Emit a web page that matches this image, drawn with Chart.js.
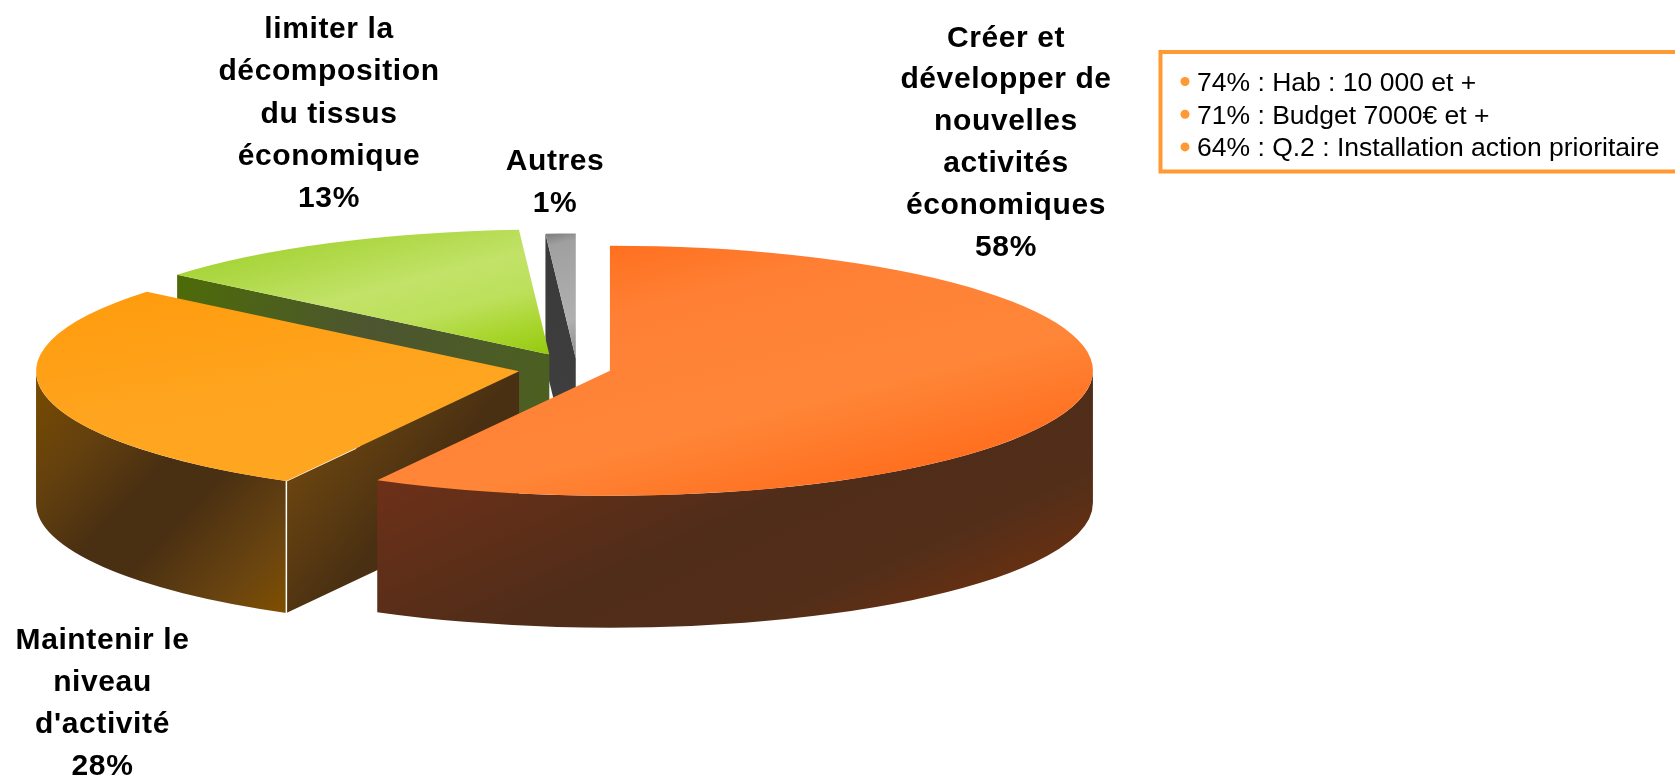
<!DOCTYPE html>
<html lang="fr">
<head>
<meta charset="utf-8">
<title>Camembert 3D</title>
<script src="https://cdn.jsdelivr.net/npm/chart.js@4/dist/chart.umd.min.js"></script>
<style>
html,body{margin:0;padding:0;background:#fff;overflow:hidden}
canvas{display:block}
</style>
</head>
<body>
<canvas id="c" width="1675" height="777"></canvas>
<script>
// ---- data ----
const categories = [
  ["Créer et", "développer de", "nouvelles", "activités", "économiques"],
  ["Maintenir le", "niveau", "d'activité"],
  ["limiter la", "décomposition", "du tissus", "économique"],
  ["Autres"]
];
const values = [58, 28, 13, 1];
const noteLines = [
  "74% : Hab : 10 000 et +",
  "71% : Budget 7000€ et +",
  "64% : Q.2 : Installation action prioritaire"
];

// ---- styling constants ----
const SQUASH = 125 / 483, DEPTH = 132, RADIUS = 483;
const explode = [34, 59, 61, 39];
const labelAnchors = [
  {x: 1006, last: 255.5, gap: 41.8},
  {x: 102.5, last: 775, gap: 42},
  {x: 329, last: 207, gap: 42.2},
  {x: 555, last: 212, gap: 42}
];
const topShades = [
  {a:[609,246], b:[1333,433], s:[[0,'#ff701f'],[.2,'#ff8035'],[.55,'#ff8638'],[.8,'#ff7020'],[1,'#ff6a15']]},
  {a:[30,285], b:[520,480], s:[[0,'#ff9a0a'],[.5,'#ffa41e'],[1,'#ffa723']]},
  {a:[175,232], b:[599,342], s:[[0,'#a0d02c'],[.2,'#a8d53b'],[.5,'#c2e268'],[.68,'#bde05c'],[.85,'#a8d52c'],[1,'#95c90e']]},
  {a:[542,235], b:[796,301], s:[[0,'#7d7d7d'],[.1,'#a0a0a0'],[.7,'#b0b0b0'],[1,'#8c8c8c']]}
];
const wallShades = [
  {a:[374,481], b:[542,853], s:[[0,'#6e3018'],[.45,'#502d19'],[.7,'#522e19'],[.95,'#72310f'],[1,'#72310f']]},
  {a:[31,375], b:[285,612], s:[[0,'#7a4c00'],[.25,'#63400e'],[.45,'#4a3012'],[.6,'#4a3012'],[.85,'#6b4510'],[1,'#7f4f00']]}
];
const faceShades = [
  null,
  {a:[285,480], b:[370,550], s:[[0,'#6b4510'],[1,'#4a3012']]},
  {a:[178,280], b:[548,410], s:[[0,'#4d6b08'],[.5,'#4c5530'],[1,'#4c6020']]},
  {a:[542,235], b:[576,400], s:[[0,'#3a3a3a'],[1,'#3e3e3e']]}
];

function linear(ctx, sh, map) {
  const p = map ? map(sh.a) : sh.a, q = map ? map(sh.b) : sh.b;
  const g = ctx.createLinearGradient(p[0], p[1], q[0], q[1]);
  sh.s.forEach(([t, col]) => g.addColorStop(t, col));
  return g;
}
function shift(mid, i) {
  return {ex: Math.cos(mid) * explode[i], ey: Math.sin(mid) * explode[i] * SQUASH};
}

const pie3d = {
  id: 'pie3d',
  beforeDatasetDraw(chart, args) {
    const ctx = chart.ctx, arcs = chart.getDatasetMeta(args.index).data;
    // back-to-front painting order: the last slice sits furthest back
    for (let i = arcs.length - 1; i >= 0; i--) {
      const arc = arcs[i], {x, y, startAngle: s, endAngle: e, outerRadius: r} = arc;
      const {ex, ey} = shift((s + e) / 2, i), X = x + ex, Y = y + ey, ry = r * SQUASH;
      // cut face
      if (Math.cos(s) < -1e-6 && faceShades[i]) {
        const px = X + Math.cos(s) * r, py = Y + Math.sin(s) * ry;
        ctx.beginPath();
        ctx.moveTo(X, Y); ctx.lineTo(px, py); ctx.lineTo(px, py + DEPTH); ctx.lineTo(X, Y + DEPTH);
        ctx.closePath();
        ctx.fillStyle = linear(ctx, faceShades[i]);
        ctx.fill();
      }
      // outer wall (front half only)
      const lo = Math.max(s, 0), hi = Math.min(e, Math.PI);
      if (hi > lo && wallShades[i]) {
        ctx.beginPath();
        ctx.ellipse(X, Y, r, ry, 0, lo, hi);
        ctx.ellipse(X, Y + DEPTH, r, ry, 0, hi, lo, true);
        ctx.closePath();
        ctx.fillStyle = linear(ctx, wallShades[i]);
        ctx.fill();
      }
      // white seam on the corner of the second slice
      if (i === 1) {
        const px = X + Math.cos(s) * r, py = Y + Math.sin(s) * ry;
        ctx.beginPath();
        ctx.moveTo(px + (X - px) * 0.3, py + (Y - py) * 0.3);
        ctx.lineTo(px, py); ctx.lineTo(px, py + DEPTH);
        ctx.strokeStyle = '#fff'; ctx.lineWidth = 1.5; ctx.stroke();
      }
      // top face, drawn by the library's own arc element in a squashed space
      ctx.save();
      ctx.translate(ex, ey + y);
      ctx.scale(1, SQUASH);
      ctx.translate(0, -y);
      arc.draw(ctx);
      ctx.restore();
    }
    return false;
  },
  afterDraw(chart) {
    const ctx = chart.ctx;
    ctx.save();
    ctx.fillStyle = '#000';
    ctx.textBaseline = 'alphabetic';
    ctx.textAlign = 'center';
    ctx.font = 'bold 30px "Liberation Sans", Arial, sans-serif';
    ctx.letterSpacing = '0.6px';
    categories.forEach((lines, i) => {
      const all = lines.concat(values[i] + '%'), a = labelAnchors[i];
      all.forEach((t, j) => ctx.fillText(t, a.x, a.last - (all.length - 1 - j) * a.gap));
    });
    // note box
    ctx.letterSpacing = '0px';
    ctx.strokeStyle = '#ff9933'; ctx.lineWidth = 4;
    ctx.strokeRect(1160.5, 52, 520, 119.5);
    ctx.textAlign = 'left';
    ctx.font = '26.5px "Liberation Sans", Arial, sans-serif';
    noteLines.forEach((t, j) => {
      ctx.fillStyle = '#ff9933';
      ctx.beginPath(); ctx.arc(1185, 81.5 + j * 32.7, 4.5, 0, Math.PI * 2); ctx.fill();
      ctx.fillStyle = '#000';
      ctx.fillText(t, 1197, 91 + j * 32.5);
    });
    ctx.restore();
  }
};

const canvas = document.getElementById('c');
new Chart(canvas, {
  type: 'pie',
  plugins: [pie3d],
  data: {
    labels: categories.map(l => l.join(' ')),
    datasets: [{
      data: values,
      radius: RADIUS,
      borderWidth: 0,
      backgroundColor(c) {
        if (!c.chart.chartArea) return '#ccc';
        const i = c.dataIndex, area = c.chart.chartArea, cy = (area.top + area.bottom) / 2;
        const total = values.reduce((p, v) => p + v, 0);
        const before = values.slice(0, i).reduce((p, v) => p + v, 0);
        const mid = -Math.PI / 2 + (before + values[i] / 2) / total * Math.PI * 2;
        const {ex, ey} = shift(mid, i);
        return linear(c.chart.ctx, topShades[i], p => [p[0] - ex, cy + (p[1] - ey - cy) / SQUASH]);
      }
    }]
  },
  options: {
    responsive: false,
    animation: false,
    events: [],
    layout: {padding: {left: 0, top: 0, right: 521, bottom: 40}},
    plugins: {legend: {display: false}, tooltip: {enabled: false}}
  }
});
</script>
</body>
</html>
